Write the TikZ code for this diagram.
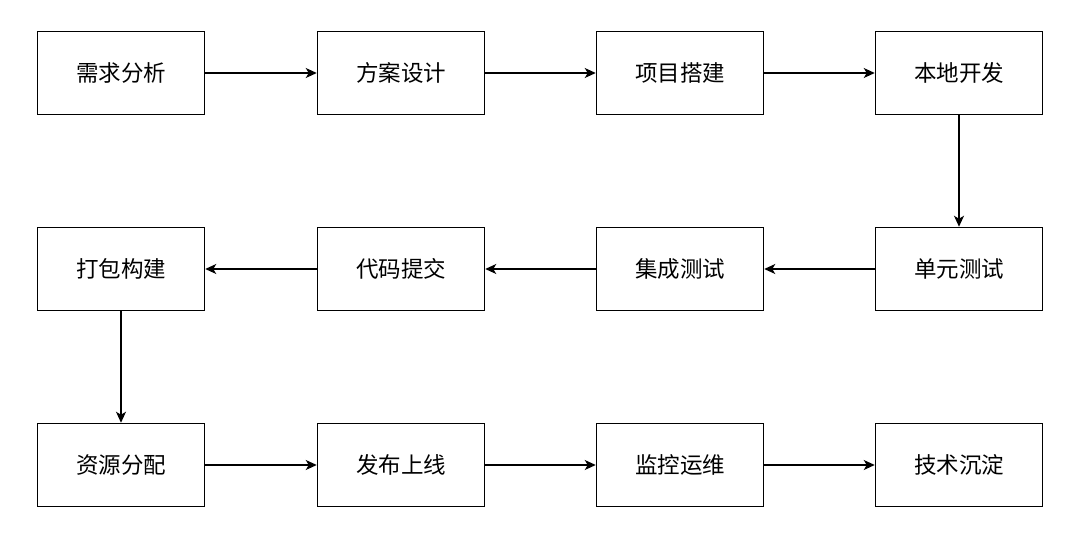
\documentclass[tikz,border=0pt]{standalone}
\usepackage{fontspec}
\newfontfamily\cjk{Noto Sans CJK SC}
\usetikzlibrary{arrows.meta}
\begin{document}
\begin{tikzpicture}[x=1pt,y=-1pt,
  box/.style={draw=black,line width=1.5pt,minimum width=167pt,minimum height=83pt,inner sep=0pt,font=\cjk\fontsize{22.5}{26}\selectfont},
  conn/.style={draw=black,line width=1.5pt,-{Stealth[length=11pt,width=10pt,inset=3pt]}}]
\useasboundingbox (0,0) rectangle (1080,538);
\node[box] (n1) at (121,73) {需求分析};
\node[box] (n2) at (401,73) {方案设计};
\node[box] (n3) at (680,73) {项目搭建};
\node[box] (n4) at (959,73) {本地开发};
\node[box] (n5) at (959,269) {单元测试};
\node[box] (n6) at (680,269) {集成测试};
\node[box] (n7) at (401,269) {代码提交};
\node[box] (n8) at (121,269) {打包构建};
\node[box] (n9) at (121,465) {资源分配};
\node[box] (n10) at (401,465) {发布上线};
\node[box] (n11) at (680,465) {监控运维};
\node[box] (n12) at (959,465) {技术沉淀};
\draw[conn] (n1) -- (n2);
\draw[conn] (n2) -- (n3);
\draw[conn] (n3) -- (n4);
\draw[conn] (n4) -- (n5);
\draw[conn] (n5) -- (n6);
\draw[conn] (n6) -- (n7);
\draw[conn] (n7) -- (n8);
\draw[conn] (n8) -- (n9);
\draw[conn] (n9) -- (n10);
\draw[conn] (n10) -- (n11);
\draw[conn] (n11) -- (n12);
\end{tikzpicture}
\end{document}
